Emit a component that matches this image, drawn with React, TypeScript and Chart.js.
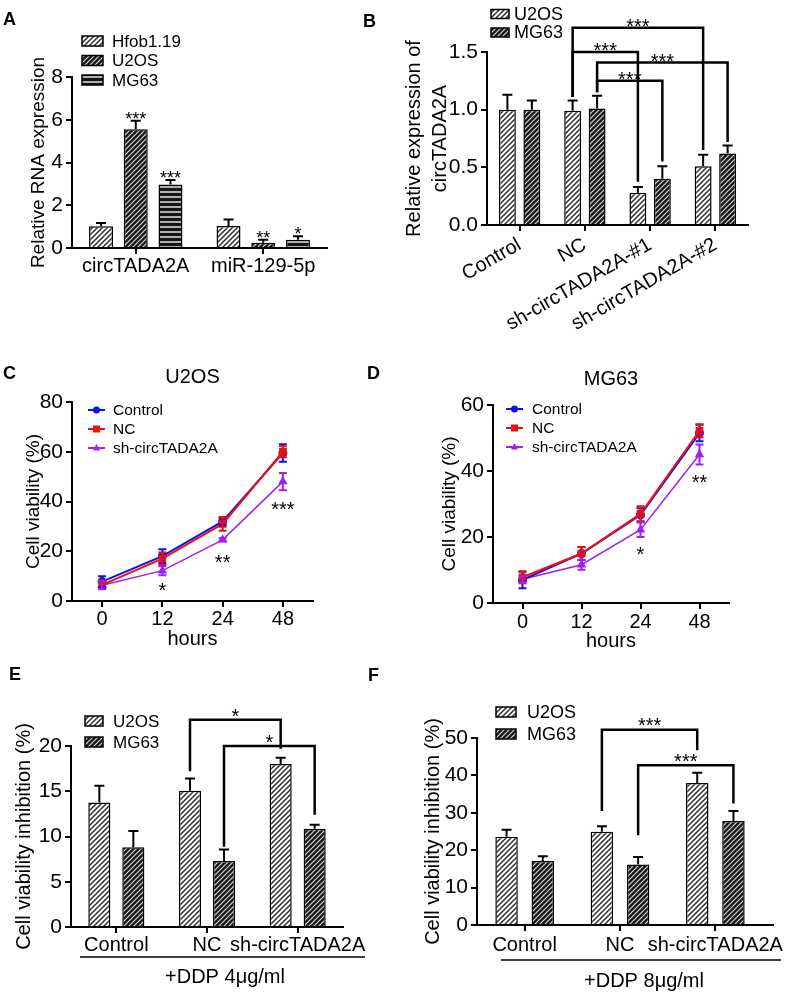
import React, { useEffect, useRef } from 'react';
import { Chart, registerables } from 'chart.js';

Chart.register(...registerables);

const FONT = "'Liberation Sans', Arial, Helvetica, sans-serif";
Chart.defaults.font.family = FONT;
Chart.defaults.color = '#000';

// ---------- Panel A ----------
const aCategories = ['circTADA2A', 'miR-129-5p'];
const aHfob = [1.02, 1.03];
const aHfobErr = [0.15, 0.3];
const aU2OS = [5.56, 0.25];
const aU2OSErr = [0.39, 0.14];
const aMG63 = [2.97, 0.39];
const aMG63Err = [0.21, 0.16];
const aU2OSStars = ['***', '**'];
const aMG63Stars = ['***', '*'];

// ---------- Panel B ----------
const bCategories = ['Control', 'NC', 'sh-circTADA2A-#1', 'sh-circTADA2A-#2'];
const bU2OS = [1.0, 0.99, 0.28, 0.51];
const bU2OSErr = [0.13, 0.09, 0.05, 0.1];
const bMG63 = [1.0, 1.01, 0.4, 0.62];
const bMG63Err = [0.08, 0.11, 0.11, 0.07];
const bBrackets = [
  { from: [1, 0], to: [3, 0], top: 1.71, fromEnd: 1.11, toEnd: 0.65, label: '***' },
  { from: [1, 0], to: [2, 0], top: 1.5, fromEnd: 1.11, toEnd: 0.375, label: '***' },
  { from: [1, 1], to: [3, 1], top: 1.41, fromEnd: 1.15, toEnd: 0.72, label: '***' },
  { from: [1, 1], to: [2, 1], top: 1.25, fromEnd: 1.15, toEnd: 0.55, label: '***' },
];

// ---------- Panel C (U2OS) ----------
const hours = ['0', '12', '24', '48'];
const cControl = [7.8, 18.0, 32.0, 59.5];
const cControlErr = [2.2, 2.8, 1.5, 3.5];
const cNC = [6.5, 17.0, 31.0, 60.0];
const cNCErr = [1.8, 2.5, 2.8, 2.2];
const cSh = [6.3, 12.2, 24.6, 48.0];
const cShErr = [1.5, 1.8, 0.6, 3.5];
const cStarIdx = [1, 2, 3];
const cStarY = [6.0, 17.3, 38.6];
const cStarText = ['*', '**', '***'];

// ---------- Panel D (MG63) ----------
const dControl = [7.0, 15.0, 26.7, 51.5];
const dControlErr = [2.5, 2.0, 2.0, 2.5];
const dNC = [7.8, 15.0, 27.0, 52.2];
const dNCErr = [1.8, 2.0, 2.3, 2.0];
const dSh = [7.2, 11.6, 22.2, 45.0];
const dShErr = [1.0, 1.5, 2.2, 3.0];
const dStarIdx = [2, 3];
const dStarY = [16.1, 37.9];
const dStarText = ['*', '**'];

// ---------- Panel E (DDP 4) ----------
const efCategories = ['Control', 'NC', 'sh-circTADA2A'];
const eU2OS = [13.76, 15.05, 18.0];
const eU2OSErr = [1.84, 1.35, 0.7];
const eMG63 = [8.8, 7.3, 10.85];
const eMG63Err = [1.8, 1.26, 0.45];
const eBrackets = [
  { from: [1, 0], to: [2, 0], top: 22.9, fromEnd: 17.2, toEnd: 19.7, label: '*' },
  { from: [1, 1], to: [2, 1], top: 20.0, fromEnd: 8.86, toEnd: 12.4, label: '*' },
];

// ---------- Panel F (DDP 8) ----------
const fU2OS = [23.6, 24.9, 38.0];
const fU2OSErr = [1.9, 1.5, 2.7];
const fMG63 = [17.1, 16.2, 27.8];
const fMG63Err = [1.3, 2.0, 2.7];
const fBrackets = [
  { from: [1, 0], to: [2, 0], top: 52.2, fromEnd: 30.5, toEnd: 46.7, label: '***' },
  { from: [1, 1], to: [2, 1], top: 42.7, fromEnd: 24.0, toEnd: 32.5, label: '***' },
];

// ---------- helpers ----------
function hatch(bg: string, fg: string, size = 5, lw = 1.2) {
  const c = document.createElement('canvas');
  c.width = size;
  c.height = size;
  const g = c.getContext('2d')!;
  g.fillStyle = bg;
  g.fillRect(0, 0, size, size);
  g.strokeStyle = fg;
  g.lineWidth = lw;
  g.beginPath();
  g.moveTo(0, size);
  g.lineTo(size, 0);
  g.moveTo(-1, 1);
  g.lineTo(1, -1);
  g.moveTo(size - 1, size + 1);
  g.lineTo(size + 1, size - 1);
  g.stroke();
  return g.createPattern(c, 'repeat')!;
}

function hstripes(bg: string, fg: string, size = 5, lw = 1.5) {
  const c = document.createElement('canvas');
  c.width = size;
  c.height = size;
  const g = c.getContext('2d')!;
  g.fillStyle = bg;
  g.fillRect(0, 0, size, size);
  g.fillStyle = fg;
  g.fillRect(0, Math.floor(size / 2) - lw / 2, size, lw);
  return g.createPattern(c, 'repeat')!;
}

const lightHatch = () => hatch('#ffffff', '#2e2e2e', 5, 1.5);
const darkHatch = () => hatch('#161616', '#d6d6d6', 5, 1.2);

function drawMarker(ctx: CanvasRenderingContext2D, style: string, x: number, y: number, r: number, color: string) {
  ctx.fillStyle = color;
  ctx.beginPath();
  if (style === 'circle') ctx.arc(x, y, r, 0, Math.PI * 2);
  else if (style === 'rect') ctx.rect(x - r, y - r, 2 * r, 2 * r);
  else {
    ctx.moveTo(x, y - r * 1.15);
    ctx.lineTo(x + r, y + r * 0.7);
    ctx.lineTo(x - r, y + r * 0.7);
    ctx.closePath();
  }
  ctx.fill();
}

function drawStars(ctx: CanvasRenderingContext2D, text: string, x: number, cy: number, size: number) {
  ctx.save();
  ctx.font = `${size}px ${FONT}`;
  ctx.fillStyle = '#000';
  ctx.textAlign = 'center';
  ctx.textBaseline = 'alphabetic';
  ctx.fillText(text, x, cy + 0.56 * size);
  ctx.restore();
}

function annot(cfg: any) {
  return {
    id: 'annot',
    afterDatasetsDraw(chart: any) {
      const ctx: CanvasRenderingContext2D = chart.ctx;
      const ys = chart.scales.y;
      chart.data.datasets.forEach((ds: any, di: number) => {
        if (!ds.errors) return;
        const meta = chart.getDatasetMeta(di);
        ctx.save();
        ctx.strokeStyle = ds.errColor || '#000';
        ctx.lineWidth = ds.errWidth || 2;
        meta.data.forEach((el: any, i: number) => {
          const v = ds.data[i];
          const e = ds.errors[i];
          const x = el.x;
          const yTop = ys.getPixelForValue(v + e);
          const yBot = ds.errBoth ? ys.getPixelForValue(v - e) : ys.getPixelForValue(v);
          const cap = ds.errCap || 5;
          ctx.beginPath();
          ctx.moveTo(x, yBot);
          ctx.lineTo(x, yTop);
          ctx.moveTo(x - cap, yTop);
          ctx.lineTo(x + cap, yTop);
          if (ds.errBoth) {
            ctx.moveTo(x - cap, yBot);
            ctx.lineTo(x + cap, yBot);
          }
          ctx.stroke();
        });
        ctx.restore();
        if (ds.stars) {
          meta.data.forEach((el: any, i: number) => {
            const t = ds.stars[i];
            if (!t) return;
            const yTop = ys.getPixelForValue(ds.data[i] + ds.errors[i]);
            drawStars(ctx, t, el.x, yTop - (cfg.barStarGap || 6), cfg.starSize || 18);
          });
        }
      });
    },
    afterDraw(chart: any) {
      const ctx: CanvasRenderingContext2D = chart.ctx;
      const ys = chart.scales.y;
      const xs = chart.scales.x;
      const area = chart.chartArea;
      if (cfg.extendX) {
        ctx.save();
        ctx.strokeStyle = '#000';
        ctx.lineWidth = 2;
        ctx.beginPath();
        ctx.moveTo(area.right - 1, area.bottom);
        ctx.lineTo(area.right + cfg.extendX, area.bottom);
        ctx.stroke();
        ctx.restore();
      }
      (cfg.brackets || []).forEach((b: any) => {
        const x1 = chart.getDatasetMeta(b.from[1]).data[b.from[0]].x;
        const x2 = chart.getDatasetMeta(b.to[1]).data[b.to[0]].x;
        const yT = ys.getPixelForValue(b.top);
        const y1 = ys.getPixelForValue(b.fromEnd);
        const y2 = ys.getPixelForValue(b.toEnd);
        ctx.save();
        ctx.strokeStyle = '#000';
        ctx.lineWidth = cfg.bracketWidth || 2.5;
        ctx.lineJoin = 'miter';
        ctx.beginPath();
        ctx.moveTo(x1, y1);
        ctx.lineTo(x1, yT);
        ctx.lineTo(x2, yT);
        ctx.lineTo(x2, y2);
        ctx.stroke();
        ctx.restore();
        drawStars(ctx, b.label, (x1 + x2) / 2, yT - (cfg.bracketStarGap || 6), cfg.starSize || 20);
      });
      if (cfg.stars) {
        cfg.stars.idx.forEach((ix: number, k: number) => {
          const x = xs.getPixelForValue(ix);
          drawStars(ctx, cfg.stars.text[k], x, ys.getPixelForValue(cfg.stars.y[k]), cfg.starSize || 20);
        });
      }
      if (cfg.legend) {
        const lg = cfg.legend;
        ctx.save();
        ctx.font = `${lg.size}px ${FONT}`;
        ctx.textBaseline = 'middle';
        ctx.textAlign = 'left';
        chart.data.datasets.forEach((ds: any, i: number) => {
          const cy = lg.y + i * lg.rowH;
          if (lg.kind === 'bar') {
            ctx.fillStyle = ds.backgroundColor;
            ctx.fillRect(lg.x, cy - lg.boxH / 2, lg.boxW, lg.boxH);
            ctx.strokeStyle = '#000';
            ctx.lineWidth = 1.5;
            ctx.strokeRect(lg.x, cy - lg.boxH / 2, lg.boxW, lg.boxH);
          } else {
            ctx.strokeStyle = ds.borderColor;
            ctx.lineWidth = 2;
            ctx.beginPath();
            ctx.moveTo(lg.x, cy);
            ctx.lineTo(lg.x + lg.lineW, cy);
            ctx.stroke();
            drawMarker(ctx, ds.pointStyle, lg.x + lg.lineW / 2, cy, 3.5, ds.borderColor);
          }
          ctx.fillStyle = '#000';
          ctx.fillText(ds.label, lg.textX, cy + 1);
        });
        ctx.restore();
      }
      if (cfg.title) {
        ctx.save();
        ctx.font = `${cfg.title.size}px ${FONT}`;
        ctx.fillStyle = '#000';
        ctx.textAlign = 'center';
        ctx.textBaseline = 'middle';
        ctx.fillText(cfg.title.text, (area.left + area.right) / 2, cfg.title.y);
        ctx.restore();
      }
      if (cfg.underline) {
        const u = cfg.underline;
        ctx.save();
        ctx.strokeStyle = '#000';
        ctx.lineWidth = 1.5;
        ctx.beginPath();
        ctx.moveTo(u.x1, u.y);
        ctx.lineTo(u.x2, u.y);
        ctx.stroke();
        ctx.font = `${u.size}px ${FONT}`;
        ctx.fillStyle = '#000';
        ctx.textAlign = 'center';
        ctx.textBaseline = 'middle';
        ctx.fillText(u.text, u.tx, u.ty);
        ctx.restore();
      }
    },
  };
}

function yAxis(o: any) {
  return {
    type: 'linear',
    min: 0,
    max: o.max,
    afterFit: (s: any) => {
      s.width = o.width;
      s.paddingTop = 0;
      s.paddingBottom = 0;
    },
    ticks: {
      stepSize: o.step,
      font: { size: o.tickSize ?? 21 },
      color: '#000',
      padding: 3,
      callback: (v: any) => (o.decimals ? Number(v).toFixed(o.decimals) : String(v)),
    },
    grid: { display: true, drawOnChartArea: false, drawTicks: true, tickLength: 6, color: '#000', lineWidth: 2 },
    border: { display: true, color: '#000', width: 2 },
    title: {
      display: true,
      text: o.title,
      font: { size: o.titleSize, lineHeight: o.lineH ?? 1.2 },
      color: '#000',
      padding: { top: o.titlePad, bottom: 0 },
    },
  };
}

function xAxis(o: any) {
  return {
    type: 'category',
    offset: true,
    afterFit: (s: any) => {
      s.height = o.height;
      s.paddingLeft = 0;
      s.paddingRight = 0;
    },
    ticks: {
      font: { size: o.tickSize ?? 20 },
      color: '#000',
      padding: o.pad ?? 0,
      autoSkip: false,
      maxRotation: o.rotation ?? 0,
      minRotation: o.rotation ?? 0,
    },
    grid: { display: true, drawOnChartArea: false, drawTicks: true, tickLength: 6, color: '#000', lineWidth: 2, offset: false },
    border: { display: true, color: '#000', width: 2 },
    title: o.title
      ? { display: true, text: o.title, font: { size: o.titleSize ?? 20 }, color: '#000', padding: { top: 0, bottom: 0 } }
      : { display: false },
  };
}

function baseOptions(padding: any, x: any, y: any) {
  return {
    responsive: false,
    maintainAspectRatio: false,
    animation: false,
    events: [],
    layout: { padding },
    plugins: { legend: { display: false }, tooltip: { enabled: false }, title: { display: false } },
    scales: { x, y },
  };
}

function barDs(label: string, data: number[], errors: number[], bg: any, cp: number, bp: number, stars?: string[]) {
  return {
    label,
    data,
    errors,
    stars,
    backgroundColor: bg,
    borderColor: '#000',
    borderWidth: 1.5,
    categoryPercentage: cp,
    barPercentage: bp,
    errCap: 5,
    errWidth: 2,
  };
}

function lineDs(label: string, data: number[], errors: number[], color: string, style: string, radius: number, width: number, order: number) {
  return {
    label,
    data,
    errors,
    errBoth: true,
    errColor: color,
    errCap: 4,
    errWidth: 2,
    borderColor: color,
    backgroundColor: color,
    borderWidth: width,
    pointStyle: style,
    pointRadius: radius,
    pointBackgroundColor: color,
    pointBorderColor: color,
    tension: 0,
    fill: false,
    order,
  };
}

// ---------- chart builders ----------
function makeA(canvas: HTMLCanvasElement) {
  const hs = hstripes('#161616', '#e4e4e4');
  return new Chart(canvas, {
    type: 'bar',
    data: {
      labels: aCategories,
      datasets: [
        barDs('Hfob1.19', aHfob, aHfobErr, lightHatch(), 0.817, 0.69),
        barDs('U2OS', aU2OS, aU2OSErr, darkHatch(), 0.817, 0.69, aU2OSStars),
        barDs('MG63', aMG63, aMG63Err, hs, 0.817, 0.69, aMG63Stars),
      ] as any,
    },
    options: baseOptions(
      { left: 0, top: 77, right: 67, bottom: 7 },
      xAxis({ height: 45, pad: 0 }),
      yAxis({ max: 8, step: 2, width: 72, title: 'Relative RNA expression', titleSize: 19, titlePad: 27 })
    ) as any,
    plugins: [
      annot({
        starSize: 18,
        barStarGap: 6,
        legend: { kind: 'bar', x: 82, y: 41, rowH: 19.5, boxW: 21, boxH: 10, textX: 112, size: 17 },
      }),
    ],
  });
}

function makeB(canvas: HTMLCanvasElement) {
  return new Chart(canvas, {
    type: 'bar',
    data: {
      labels: bCategories,
      datasets: [
        barDs('U2OS', bU2OS, bU2OSErr, lightHatch(), 0.75, 0.69),
        barDs('MG63', bMG63, bMG63Err, darkHatch(), 0.75, 0.69),
      ] as any,
    },
    options: baseOptions(
      { left: 0, top: 52, right: 40, bottom: 0 },
      xAxis({ height: 107, pad: 2, rotation: 30 }),
      yAxis({
        max: 1.5,
        step: 0.5,
        width: 93,
        decimals: 1,
        title: ['Relative expression of', 'circTADA2A'],
        titleSize: 20,
        lineH: 1.3,
        titlePad: 7,
      })
    ) as any,
    plugins: [
      annot({
        starSize: 20,
        bracketStarGap: 6,
        bracketWidth: 2.5,
        brackets: bBrackets,
        legend: { kind: 'bar', x: 97, y: 14, rowH: 18.5, boxW: 18, boxH: 9, textX: 120, size: 18 },
      }),
    ],
  });
}

function makeLine(canvas: HTMLCanvasElement, which: 'C' | 'D') {
  const isC = which === 'C';
  return new Chart(canvas, {
    type: 'line',
    data: {
      labels: hours,
      datasets: [
        lineDs('Control', isC ? cControl : dControl, isC ? cControlErr : dControlErr, '#1010ee', 'circle', 3.5, 2, 1),
        lineDs('NC', isC ? cNC : dNC, isC ? cNCErr : dNCErr, '#ee1010', 'rect', 4, 2, 0),
        lineDs('sh-circTADA2A', isC ? cSh : dSh, isC ? cShErr : dShErr, '#a020f0', 'triangle', 4, 1.5, 2),
      ] as any,
    },
    options: baseOptions(
      isC ? { left: 0, top: 62, right: 81, bottom: 9 } : { left: 0, top: 65, right: 59, bottom: 7 },
      xAxis({ height: 50, pad: isC ? 0 : 1, title: 'hours', titleSize: 20 }),
      yAxis({
        max: isC ? 80 : 60,
        step: 20,
        width: isC ? 72 : 99,
        title: 'Cell viability (%)',
        titleSize: 19,
        titlePad: isC ? 22 : 44,
      })
    ) as any,
    plugins: [
      annot({
        starSize: 20,
        stars: isC ? { idx: cStarIdx, y: cStarY, text: cStarText } : { idx: dStarIdx, y: dStarY, text: dStarText },
        title: { text: isC ? 'U2OS' : 'MG63', y: isC ? 37 : 39, size: 20 },
        legend: isC
          ? { kind: 'line', x: 88, lineW: 17, y: 70, rowH: 19, textX: 113, size: 15.5 }
          : { kind: 'line', x: 112, lineW: 17, y: 69, rowH: 19, textX: 138, size: 15.5 },
      }),
    ],
  });
}

function makeE(canvas: HTMLCanvasElement) {
  return new Chart(canvas, {
    type: 'bar',
    data: {
      labels: efCategories,
      datasets: [
        barDs('U2OS', eU2OS, eU2OSErr, lightHatch(), 0.75, 0.65),
        barDs('MG63', eMG63, eMG63Err, darkHatch(), 0.75, 0.65),
      ] as any,
    },
    options: baseOptions(
      { left: 0, top: 86, right: 51, bottom: 35 },
      xAxis({ height: 30, pad: 0 }),
      yAxis({ max: 20, step: 5, width: 71, title: 'Cell viability inhibition (%)', titleSize: 20, titlePad: 12 })
    ) as any,
    plugins: [
      annot({
        starSize: 20,
        bracketStarGap: 8,
        bracketWidth: 2.5,
        brackets: eBrackets,
        legend: { kind: 'bar', x: 85, y: 61, rowH: 21, boxW: 18, boxH: 10, textX: 113, size: 17 },
        underline: { x1: 80, x2: 365, y: 297, text: '+DDP 4μg/ml', tx: 225, ty: 317, size: 20 },
      }),
    ],
  });
}

function makeF(canvas: HTMLCanvasElement) {
  return new Chart(canvas, {
    type: 'bar',
    data: {
      labels: efCategories,
      datasets: [
        barDs('U2OS', fU2OS, fU2OSErr, lightHatch(), 0.76, 0.62),
        barDs('MG63', fMG63, fMG63Err, darkHatch(), 0.76, 0.62),
      ] as any,
    },
    options: baseOptions(
      { left: 0, top: 78, right: 25, bottom: 37 },
      xAxis({ height: 30, pad: 2 }),
      yAxis({ max: 50, step: 10, width: 83, title: 'Cell viability inhibition (%)', titleSize: 20, titlePad: 27 })
    ) as any,
    plugins: [
      annot({
        starSize: 20,
        bracketStarGap: 9,
        bracketWidth: 2.5,
        brackets: fBrackets,
        extendX: 11,
        legend: { kind: 'bar', x: 102, y: 52, rowH: 22, boxW: 20, boxH: 10, textX: 133, size: 18 },
        underline: { x1: 107, x2: 387, y: 300, text: '+DDP 8μg/ml', tx: 250, ty: 321, size: 20 },
      }),
    ],
  });
}

function ChartBox(props: { left: number; top: number; width: number; height: number; make: (c: HTMLCanvasElement) => Chart }) {
  const ref = useRef<HTMLCanvasElement>(null);
  useEffect(() => {
    const chart = props.make(ref.current!);
    return () => chart.destroy();
  }, []);
  return (
    <canvas
      ref={ref}
      width={props.width}
      height={props.height}
      style={{ position: 'absolute', left: props.left, top: props.top, width: props.width, height: props.height }}
    />
  );
}

const letterStyle = (left: number, top: number): React.CSSProperties => ({
  position: 'absolute',
  left,
  top,
  font: `bold 18px ${FONT}`,
  lineHeight: '18px',
  color: '#000',
});

export default function App() {
  return (
    <div style={{ position: 'absolute', left: 0, top: 0, width: 788, height: 992, background: '#fff', overflow: 'hidden' }}>
      <ChartBox left={0} top={0} width={394} height={300} make={makeA} />
      <ChartBox left={394} top={0} width={394} height={332} make={makeB} />
      <ChartBox left={0} top={340} width={394} height={320} make={(c) => makeLine(c, 'C')} />
      <ChartBox left={394} top={340} width={394} height={320} make={(c) => makeLine(c, 'D')} />
      <ChartBox left={0} top={660} width={394} height={332} make={makeE} />
      <ChartBox left={394} top={660} width={394} height={332} make={makeF} />
      <div style={letterStyle(3, 10)}>A</div>
      <div style={letterStyle(363, 12)}>B</div>
      <div style={letterStyle(3, 364)}>C</div>
      <div style={letterStyle(367, 364)}>D</div>
      <div style={letterStyle(9, 665)}>E</div>
      <div style={letterStyle(368, 666)}>F</div>
    </div>
  );
}
